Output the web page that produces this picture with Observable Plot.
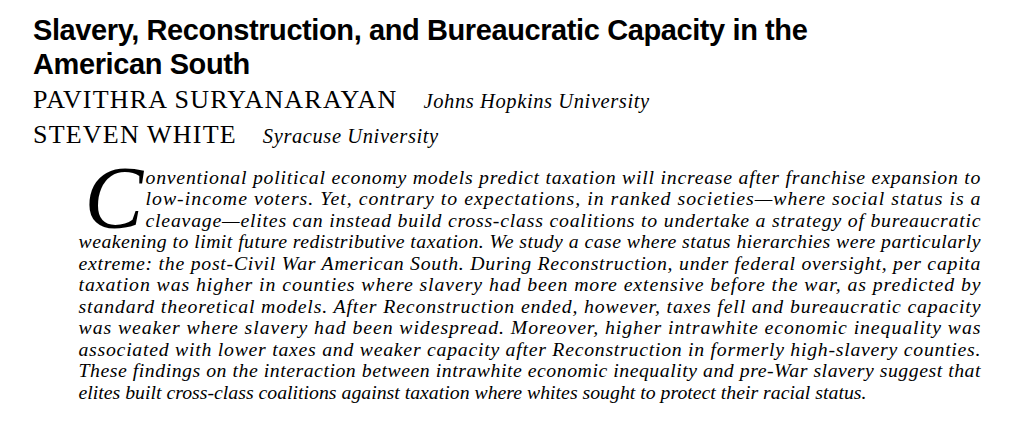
<!DOCTYPE html>
<html><head><meta charset="utf-8">
<script src="https://cdn.jsdelivr.net/npm/d3@7"></script>
<script src="https://cdn.jsdelivr.net/npm/@observablehq/plot@0.6"></script>
<style>
body{margin:0;background:#fff;width:1033px;height:427px;position:relative;overflow:hidden}
#head{position:absolute;left:33px;top:13px;z-index:2}
h1{margin:0;font:bold 29px/34px "Liberation Sans Narrow","Arial Narrow","Liberation Sans",sans-serif;letter-spacing:-0.4px}
.au{font:26px/33px "Liberation Serif",serif;margin:0;letter-spacing:1.2px}
.au i{font-size:20.5px;margin-left:26px;letter-spacing:0.6px}
#chart{position:absolute;left:0;top:0}
</style></head><body>
<div id="head">
<h1>Slavery, Reconstruction, and Bureaucratic Capacity in the<br>American South</h1>
<p class="au" style="margin-top:2px">PAVITHRA SURYANARAYAN<i>Johns Hopkins University</i></p>
<p class="au">STEVEN WHITE<i>Syracuse University</i></p>
</div>
<div id="chart"></div>
<script>
// abstract lines
const lines = [
  "onventional political economy models predict taxation will increase after franchise expansion to",
  "low-income voters. Yet, contrary to expectations, in ranked societies\u2014where social status is a",
  "cleavage\u2014elites can instead build cross-class coalitions to undertake a strategy of bureaucratic",
  "weakening to limit future redistributive taxation. We study a case where status hierarchies were particularly",
  "extreme: the post-Civil War American South. During Reconstruction, under federal oversight, per capita",
  "taxation was higher in counties where slavery had been more extensive before the war, as predicted by",
  "standard theoretical models. After Reconstruction ended, however, taxes fell and bureaucratic capacity",
  "was weaker where slavery had been widespread. Moreover, higher intrawhite economic inequality was",
  "associated with lower taxes and weaker capacity after Reconstruction in formerly high-slavery counties.",
  "These findings on the interaction between intrawhite economic inequality and pre-War slavery suggest that",
  "elites built cross-class coalitions against taxation where whites sought to protect their racial status."
]
const indent = [1, 1, 1, 0, 0, 0, 0, 0, 0, 0, 0]
const dropCap = ["C"]

const rows = lines.map((t, i) => ({t, i, x: indent[i] ? 145 : 78}))

const chart = Plot.plot({
  width: 1033, height: 427,
  margin: 0,
  x: {domain: [0, 1033], range: [0, 1033], axis: null},
  y: {domain: [0, 10], range: [183, 398], axis: null},
  style: {fontFamily: "'Liberation Serif', serif"},
  marks: [
    Plot.text(rows, {x: "x", y: "i", text: "t", textAnchor: "start", lineAnchor: "bottom",
      fontSize: 19.8, fontStyle: "italic", fill: "#000"}),
    Plot.text(dropCap, {x: 84, y: 2, text: d => d, textAnchor: "start", lineAnchor: "bottom",
      fontSize: 88, fontStyle: "italic", fill: "#000"})
  ]
})
d3.select('#chart').append(() => chart)
// justify all but the last line
d3.select(chart).selectAll("g[aria-label=text]").filter((d, k) => k === 0).selectAll("text")
  .each(function (_, k) {
    if (k < lines.length - 1) {
      const x0 = indent[k] ? 145 : 78
      d3.select(this).attr("textLength", 980 - x0).attr("lengthAdjust", "spacing")
    }
  })
</script>
</body></html>
